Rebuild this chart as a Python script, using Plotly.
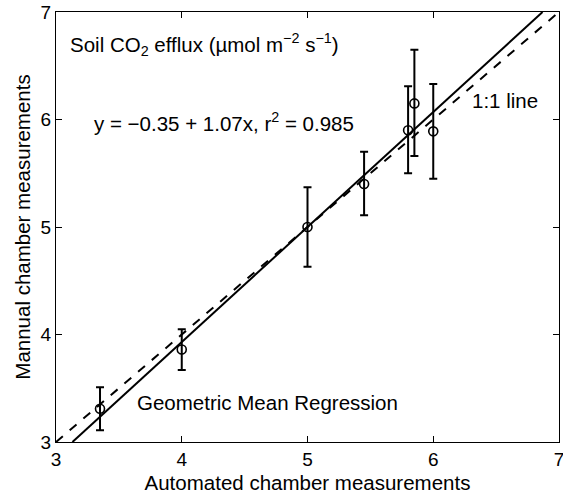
import plotly.graph_objects as go

auto_x = [3.35, 4.0, 5.0, 5.45, 5.8, 5.85, 6.0]
manual_y = [3.31, 3.86, 5.0, 5.40, 5.90, 6.15, 5.89]
err_hi = [0.20, 0.19, 0.37, 0.30, 0.41, 0.50, 0.44]
err_lo = [0.20, 0.19, 0.37, 0.29, 0.40, 0.49, 0.44]

intercept = -0.35
slope = 1.07
ticks = [3, 4, 5, 6, 7]
axis_range = [3, 7]

reg_x = [(3 - intercept) / slope, (7 - intercept) / slope]
reg_y = [intercept + slope * v for v in reg_x]

FONT = "Liberation Sans, Arial, Helvetica, sans-serif"

fig = go.Figure()
fig.add_trace(go.Scatter(x=axis_range, y=axis_range, mode="lines",
                         line=dict(color="black", width=2, dash="dash"), showlegend=False))
fig.add_trace(go.Scatter(x=reg_x, y=reg_y, mode="lines",
                         line=dict(color="black", width=2), showlegend=False))
fig.add_trace(go.Scatter(
    x=auto_x, y=manual_y, mode="markers",
    marker=dict(symbol="circle-open", size=9, color="black", line=dict(width=1.6)),
    error_y=dict(type="data", array=err_hi, arrayminus=err_lo, color="black",
                 thickness=2, width=4, visible=True),
    showlegend=False))

axis_common = dict(range=axis_range, tickvals=ticks, ticks="inside", ticklen=6,
                   tickcolor="black", tickwidth=1, showline=True, linecolor="black",
                   linewidth=1, mirror="ticks", showgrid=False, zeroline=False,
                   automargin=False, ticklabeloverflow="allow",
                   tickfont=dict(size=19, color="black", family=FONT))

fig.update_xaxes(**axis_common, title=dict(text="Automated chamber measurements",
                 font=dict(size=20.5, color="black", family=FONT), standoff=6))
fig.update_yaxes(**axis_common, title=dict(text="Mannual chamber measurements",
                 font=dict(size=20.5, color="black", family=FONT), standoff=4))

ann_font = dict(size=20.5, color="black", family=FONT)
fig.add_annotation(x=3.095, y=6.70, xanchor="left", yanchor="middle", showarrow=False,
                   text="Soil CO<sub>2</sub> efflux (µmol m<sup>−2</sup> s<sup>−1</sup>)", font=ann_font)
fig.add_annotation(x=3.29, y=5.98, xanchor="left", yanchor="middle", showarrow=False,
                   text="y = −0.35 + 1.07x, r<sup>2</sup> = 0.985", font=ann_font)
fig.add_annotation(x=6.29, y=6.18, xanchor="left", yanchor="middle", showarrow=False,
                   text="1:1 line", font=ann_font)
fig.add_annotation(x=3.63, y=3.37, xanchor="left", yanchor="middle", showarrow=False,
                   text="Geometric Mean Regression", font=ann_font)

fig.update_layout(width=563, height=496, margin=dict(l=56, r=4, t=12, b=54),
                  paper_bgcolor="white", plot_bgcolor="white",
                  font=dict(family=FONT, color="black"))

# remove the page's default 8px body margin so the figure fills the window
fig.write_html("out.html", config={"displayModeBar": False},
               post_script="document.body.style.margin='0';")
